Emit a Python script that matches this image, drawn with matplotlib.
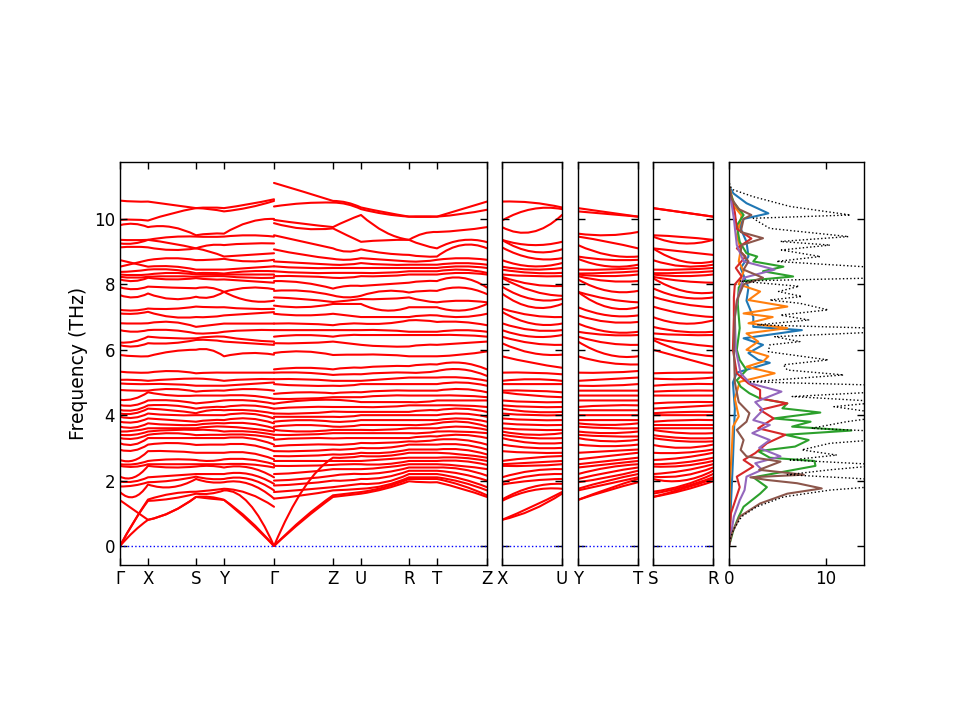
import numpy as np
import matplotlib
matplotlib.use('Agg')
import matplotlib.pyplot as plt
from matplotlib.path import Path
from matplotlib.patches import PathPatch

plt.rcParams['font.family'] = ['DejaVu Sans']
plt.rcParams['font.size'] = 12

# ---------------- data ----------------
main_labels = ['Γ', 'X', 'S', 'Y', 'Γ', 'Z', 'U', 'R', 'T', 'Z']
seg_lengths = [28, 48, 28, 50, 59, 28, 48, 28, 50]
side_labels = [('X', 'U'), ('Y', 'T'), ('S', 'R')]

# band frequencies (THz) at high-symmetry points and segment midpoints
G_left = [0, 0, 0, 1.4, 1.65, 1.82, 1.97, 2.12,
          2.45, 2.5, 2.63, 2.94, 3.14, 3.3, 3.4, 3.5,
          3.65, 3.8, 3.95, 4.05, 4.16, 4.31, 4.47, 4.77,
          4.97, 5.08, 5.33, 5.84, 6.14, 6.22, 6.6, 6.81,
          7.11, 7.22, 7.67, 7.91, 8.15, 8.23, 8.3, 8.38,
          8.54, 8.74, 9.13, 9.25, 9.36, 9.81, 9.97, 10.56]
GX_mid = [0.45, 0.75, 0.75, 1.1, 1.5, 1.85, 1.97, 2.1,
          2.42, 2.5, 2.62, 2.92, 3.1, 3.28, 3.4, 3.52,
          3.62, 3.78, 3.92, 4.05, 4.15, 4.3, 4.5, 4.75,
          4.95, 5.08, 5.3, 5.8, 6.1, 6.25, 6.55, 6.8,
          7.1, 7.2, 7.6, 7.85, 8.1, 8.2, 8.28, 8.4,
          8.64, 8.64, 9.15, 9.25, 9.35, 9.85, 9.98, 10.53]
X_pt = [0.8, 0.8, 1.38, 1.42, 1.88, 1.95, 2.1, 2.45,
        2.5, 2.6, 2.9, 3.1, 3.3, 3.4, 3.5, 3.6,
        3.75, 3.9, 4.05, 4.2, 4.3, 4.45, 4.7, 4.75,
        4.95, 5.05, 5.3, 5.8, 6.2, 6.4, 6.6, 6.81,
        7.16, 7.26, 7.72, 7.93, 8.2, 8.23, 8.3, 8.45,
        8.54, 8.74, 9.13, 9.36, 9.36, 9.75, 9.95, 10.53]
XS_mid = [1.05, 1.05, 1.45, 1.6, 1.8, 2.0, 2.15, 2.4,
          2.5, 2.65, 2.9, 3.15, 3.3, 3.45, 3.55, 3.6,
          3.7, 3.85, 4.0, 4.15, 4.3, 4.45, 4.6, 4.8,
          4.95, 5.1, 5.35, 5.95, 6.2, 6.35, 6.6, 6.85,
          7.0, 7.25, 7.55, 7.9, 8.15, 8.25, 8.35, 8.45,
          8.55, 8.8, 9.05, 9.25, 9.45, 9.75, 10.17, 10.43]
S_pt = [1.5, 1.5, 1.6, 1.66, 2.05, 2.12, 2.2, 2.43,
        2.5, 2.63, 2.85, 3.09, 3.3, 3.39, 3.55, 3.6,
        3.7, 3.8, 4.0, 4.06, 4.2, 4.36, 4.6, 4.72,
        4.9, 5.12, 5.28, 6.0, 6.3, 6.35, 6.5, 6.7,
        7.0, 7.32, 7.62, 7.88, 8.19, 8.23, 8.3, 8.34,
        8.45, 8.74, 9.1, 9.1, 9.46, 9.5, 10.33, 10.33]
SY_mid = [1.45, 1.5, 1.6, 1.7, 1.95, 2.05, 2.2, 2.45,
          2.5, 2.6, 2.85, 3.1, 3.3, 3.4, 3.55, 3.65,
          3.75, 3.85, 4.0, 4.15, 4.25, 4.4, 4.6, 4.75,
          4.9, 5.1, 5.3, 6.0, 6.3, 6.4, 6.5, 6.75,
          7.0, 7.3, 7.6, 7.9, 8.15, 8.25, 8.3, 8.35,
          8.45, 8.75, 9.0, 9.2, 9.45, 9.55, 10.3, 10.35]
Y_pt = [1.41, 1.41, 1.7, 1.75, 1.95, 2.05, 2.2, 2.4,
        2.5, 2.65, 2.85, 3.1, 3.3, 3.4, 3.5, 3.65,
        3.75, 3.85, 4.0, 4.15, 4.25, 4.45, 4.6, 4.75,
        4.9, 5.05, 5.3, 5.8, 6.25, 6.4, 6.55, 6.8,
        7.05, 7.3, 7.77, 7.77, 8.15, 8.25, 8.3, 8.33,
        8.45, 8.78, 8.85, 9.2, 9.46, 9.55, 10.23, 10.33]
YG_mid = [0.75, 0.8, 1.3, 1.6, 1.9, 2.05, 2.2, 2.4,
          2.5, 2.65, 2.85, 3.1, 3.3, 3.4, 3.5, 3.6,
          3.75, 3.9, 4.05, 4.15, 4.3, 4.45, 4.6, 4.8,
          4.95, 5.1, 5.3, 5.9, 6.2, 6.3, 6.6, 6.8,
          7.1, 7.25, 7.5, 7.9, 8.1, 8.2, 8.3, 8.4,
          8.5, 8.7, 8.9, 9.25, 9.5, 9.9, 10.35, 10.45]
G_end = [0, 0, 0, 1.2, 1.45, 1.7, 1.9, 2.1,
         2.4, 2.5, 2.65, 2.9, 3.1, 3.3, 3.4, 3.5,
         3.6, 3.75, 3.9, 4.05, 4.2, 4.35, 4.5, 4.75,
         5.0, 5.1, 5.3, 5.85, 6.15, 6.25, 6.6, 6.8,
         7.15, 7.25, 7.5, 7.85, 8.05, 8.2, 8.3, 8.4,
         8.55, 8.75, 8.95, 9.25, 9.46, 10.0, 10.55, 10.6]
G_start = [0, 0, 0, 1.45, 1.65, 1.85, 2.0, 2.2,
           2.45, 2.6, 2.75, 2.9, 3.05, 3.25, 3.4, 3.55,
           3.65, 3.8, 3.95, 4.05, 4.2, 4.35, 4.5, 4.65,
           4.95, 5.1, 5.3, 5.4, 5.9, 6.2, 6.4, 6.6,
           6.8, 7.1, 7.35, 7.6, 7.8, 8.1, 8.25, 8.4,
           8.55, 8.7, 9.07, 9.5, 9.87, 9.97, 10.38, 11.1]
GZ_mid = [0.8, 0.85, 1.75, 1.55, 1.72, 1.9, 2.05, 2.25,
          2.45, 2.6, 2.75, 2.9, 3.1, 3.3, 3.4, 3.5,
          3.7, 3.85, 3.95, 4.05, 4.25, 4.45, 4.5, 4.7,
          4.9, 5.1, 5.3, 5.45, 5.95, 6.2, 6.45, 6.6,
          6.8, 7.05, 7.3, 7.55, 7.8, 8.05, 8.25, 8.35,
          8.5, 8.65, 8.9, 9.3, 9.7, 9.85, 10.48, 10.83]
Z_pt = [1.5, 1.55, 1.7, 1.8, 2.0, 2.15, 2.35, 2.48,
        2.6, 2.7, 2.8, 2.95, 3.1, 3.29, 3.45, 3.55,
        3.65, 3.8, 3.95, 4.11, 4.25, 4.47, 4.55, 4.67,
        4.9, 5.05, 5.23, 5.4, 5.84, 6.25, 6.4, 6.6,
        6.75, 7.1, 7.4, 7.46, 7.66, 7.87, 8.2, 8.35,
        8.5, 8.6, 8.78, 9.1, 9.71, 9.75, 10.5, 10.55]
ZU_mid = [1.55, 1.6, 1.72, 1.85, 2.0, 2.2, 2.35, 2.5,
          2.6, 2.7, 2.8, 2.95, 3.1, 3.3, 3.45, 3.55,
          3.65, 3.8, 3.95, 4.1, 4.25, 4.45, 4.55, 4.7,
          4.9, 5.05, 5.25, 5.45, 5.85, 6.2, 6.45, 6.6,
          6.8, 7.05, 7.4, 7.5, 7.6, 7.95, 8.2, 8.35,
          8.5, 8.6, 8.75, 9.0, 9.5, 9.95, 10.45, 10.5]
U_pt = [1.6, 1.65, 1.75, 1.9, 2.05, 2.2, 2.35, 2.5,
        2.6, 2.75, 2.85, 3.0, 3.15, 3.3, 3.45, 3.55,
        3.7, 3.85, 4.0, 4.1, 4.25, 4.4, 4.55, 4.7,
        4.95, 5.05, 5.25, 5.45, 5.85, 6.15, 6.45, 6.6,
        6.8, 7.0, 7.4, 7.55, 7.65, 7.95, 8.25, 8.35,
        8.5, 8.65, 8.8, 9.07, 9.3, 10.12, 10.3, 10.35]
UR_mid = [1.75, 1.8, 1.85, 1.95, 2.1, 2.25, 2.4, 2.5,
          2.65, 2.75, 2.85, 3.0, 3.15, 3.3, 3.45, 3.55,
          3.7, 3.85, 4.0, 4.1, 4.25, 4.4, 4.6, 4.75,
          4.95, 5.1, 5.3, 5.5, 5.85, 6.1, 6.45, 6.6,
          6.8, 7.0, 7.2, 7.55, 7.8, 8.0, 8.25, 8.35,
          8.5, 8.6, 8.75, 8.95, 9.35, 9.6, 10.15, 10.2]
R_pt = [1.98, 2.05, 2.1, 2.2, 2.3, 2.4, 2.5, 2.6,
        2.7, 2.85, 2.95, 3.1, 3.2, 3.3, 3.45, 3.6,
        3.7, 3.85, 4.0, 4.1, 4.3, 4.4, 4.6, 4.75,
        4.95, 5.15, 5.3, 5.5, 5.8, 6.1, 6.45, 6.55,
        6.9, 7.0, 7.3, 7.6, 7.75, 8.05, 8.3, 8.4,
        8.5, 8.6, 8.7, 8.9, 9.36, 9.36, 10.07, 10.07]
RT_mid = [1.95, 2.05, 2.1, 2.2, 2.3, 2.4, 2.5, 2.6,
          2.7, 2.85, 2.95, 3.1, 3.2, 3.35, 3.45, 3.6,
          3.7, 3.85, 4.0, 4.15, 4.3, 4.4, 4.6, 4.75,
          4.95, 5.15, 5.3, 5.55, 5.8, 6.15, 6.45, 6.55,
          6.9, 7.05, 7.3, 7.5, 7.8, 8.1, 8.3, 8.4,
          8.5, 8.6, 8.7, 8.85, 9.2, 9.55, 10.06, 10.08]
T_pt = [1.95, 2.05, 2.1, 2.2, 2.3, 2.4, 2.5, 2.6,
        2.7, 2.85, 2.95, 3.1, 3.25, 3.35, 3.5, 3.6,
        3.75, 3.85, 4.0, 4.15, 4.3, 4.45, 4.6, 4.75,
        4.95, 5.15, 5.35, 5.55, 5.8, 6.15, 6.45, 6.55,
        6.85, 7.05, 7.3, 7.45, 7.8, 8.1, 8.3, 8.4,
        8.5, 8.6, 8.75, 8.85, 9.1, 9.6, 10.07, 10.07]
TZ_mid = [1.75, 1.85, 1.95, 2.05, 2.2, 2.35, 2.45, 2.6,
          2.7, 2.8, 2.95, 3.1, 3.25, 3.4, 3.5, 3.65,
          3.8, 3.9, 4.05, 4.2, 4.3, 4.45, 4.6, 4.8,
          5.0, 5.15, 5.4, 5.6, 5.85, 6.2, 6.45, 6.6,
          6.85, 7.0, 7.2, 7.5, 7.9, 8.2, 8.35, 8.45,
          8.55, 8.65, 8.8, 9.2, 9.35, 9.65, 10.15, 10.3]
Z_end = [1.5, 1.55, 1.7, 1.8, 2.0, 2.15, 2.35, 2.48,
         2.6, 2.7, 2.8, 2.95, 3.1, 3.3, 3.45, 3.55,
         3.65, 3.8, 3.95, 4.1, 4.25, 4.45, 4.55, 4.7,
         4.9, 5.05, 5.2, 5.4, 5.95, 6.25, 6.4, 6.55,
         6.75, 7.1, 7.4, 7.45, 7.7, 7.9, 8.3, 8.35,
         8.5, 8.6, 8.75, 9.1, 9.29, 9.75, 10.28, 10.53]
XU_mid = [1.1, 1.2, 1.7, 1.8, 2.0, 2.15, 2.3, 2.45,
          2.55, 2.7, 2.85, 3.0, 3.15, 3.3, 3.4, 3.55,
          3.7, 3.85, 4.0, 4.1, 4.25, 4.4, 4.6, 4.75,
          4.95, 5.1, 5.3, 5.6, 5.9, 6.2, 6.4, 6.6,
          6.8, 7.05, 7.3, 7.55, 7.8, 8.0, 8.25, 8.35,
          8.45, 8.55, 8.8, 9.0, 9.2, 9.6, 10.3, 10.5]
YT_mid = [1.7, 1.75, 1.9, 2.0, 2.1, 2.25, 2.4, 2.5,
          2.6, 2.75, 2.9, 3.05, 3.2, 3.35, 3.45, 3.6,
          3.7, 3.85, 4.0, 4.15, 4.3, 4.45, 4.6, 4.75,
          4.9, 5.1, 5.3, 5.6, 5.85, 6.2, 6.45, 6.55,
          6.85, 7.05, 7.3, 7.55, 7.8, 8.1, 8.25, 8.35,
          8.45, 8.55, 8.75, 8.9, 9.3, 9.5, 10.15, 10.2]
SR_mid = [1.7, 1.75, 1.8, 1.85, 2.0, 2.15, 2.3, 2.45,
          2.55, 2.7, 2.85, 3.0, 3.2, 3.3, 3.45, 3.6,
          3.7, 3.85, 4.0, 4.1, 4.25, 4.4, 4.6, 4.75,
          4.95, 5.1, 5.3, 5.75, 5.95, 6.2, 6.45, 6.55,
          6.8, 7.1, 7.4, 7.6, 7.8, 8.1, 8.25, 8.35,
          8.45, 8.55, 8.7, 9.0, 9.25, 9.45, 10.2, 10.2]

# band crossings: (segment, band at start, band index at end)
GX_links = {1: 3, 3: 1, 40: 41, 41: 40}
GZ_links = {2: 9, 3: 2, 4: 3, 5: 4, 6: 5, 7: 6, 8: 7, 9: 8}

# DOS (states/THz)
tdos_f = [0, 0.18, 0.49, 0.9, 1.2, 1.5, 1.71, 1.86, 2.02, 2.18, 2.33, 2.48, 2.63,
          2.78, 2.94, 3.14, 3.29, 3.5, 3.6, 3.8, 4.0, 4.26, 4.41, 4.57, 4.72,
          4.92, 5.02, 5.23, 5.38, 5.54, 5.69, 5.94, 6.15, 6.25, 6.4, 6.55, 6.66,
          6.76, 6.91, 7.06, 7.22, 7.42, 7.52, 7.63, 7.78, 7.94, 8.1, 8.2, 8.34,
          8.5, 8.7, 8.85, 9.05, 9.2, 9.31, 9.46, 9.71, 9.92, 10.02, 10.12, 10.38,
          10.68, 10.89, 11.0, 11.2]
tdos_v = [0, 0.1, 0.45, 1.3, 2.85, 5.6, 10.4, 17, 16, 6.0, 10.4, 16, 6.3,
          11.1, 7.5, 10.4, 17, 16, 8.5, 12.1, 17, 10.8, 16, 6.5, 16,
          15, 2.2, 11.8, 6.0, 5.6, 10.2, 4.05, 4.2, 7.3, 4.7, 16, 15,
          2.9, 8.2, 5.3, 10.2, 7.3, 4.2, 7.5, 5.1, 7.2, 1.1, 16, 17,
          16, 4.9, 9.4, 5.4, 10.4, 5.3, 12.3, 4.2, 3.0, 2.5, 12.5, 6.3,
          2.5, 0.44, 0.1, 0]

pdos1_f = [0, 2.6, 4.2, 5.0, 5.3, 5.6, 5.69, 5.9, 6.15, 6.35, 6.6, 6.7, 7.0,
           7.5, 7.9, 8.5, 8.85, 9.3, 9.77, 10.0, 10.17, 10.48, 10.78, 11.0]
pdos1_v = [0, 0.4, 0.6, 0.4, 0.8, 4.2, 3.0, 2.0, 3.5, 1.5, 7.5, 2.5, 2.5,
           1.8, 2.0, 1.2, 2.0, 1.8, 1.1, 1.5, 4.05, 1.8, 0.45, 0]
pdos2_f = [0, 2.0, 3.0, 3.65, 3.96, 4.5, 5.02, 5.28, 5.48, 5.64, 5.8, 6.0, 6.25,
           6.5, 6.66, 6.81, 7.0, 7.11, 7.32, 7.52, 7.78, 8.0, 8.4, 8.7, 9.05,
           9.5, 10.1, 10.4, 10.8, 11.0]
pdos2_v = [0, 0.1, 0.3, 0.4, 1.0, 0.6, 1.1, 4.7, 1.8, 3.5, 4.05, 1.8, 3.0,
           1.8, 6.0, 2.0, 4.5, 1.5, 6.0, 2.0, 3.2, 1.0, 1.5, 1.0, 1.2,
           0.8, 1.3, 0.5, 0.2, 0]
pdos3_f = [0, 0.49, 0.9, 1.2, 1.6, 1.8, 2.1, 2.45, 2.6, 2.7, 2.9, 3.04, 3.24,
           3.4, 3.53, 3.65, 3.8, 3.9, 4.08, 4.21, 4.36, 4.51, 4.67, 4.87, 5.07,
           5.38, 5.69, 6.0, 6.66, 7.4, 7.9, 8.1, 8.24, 8.4, 8.54, 8.7, 8.85,
           8.95, 9.3, 9.8, 10.12, 10.5, 10.9]
pdos3_v = [0, 0.45, 1.0, 1.5, 3.2, 3.9, 2.5, 8.9, 8.8, 4.2, 3.0, 6.8, 8.2,
           5.8, 12.6, 6.5, 8.4, 4.6, 9.4, 5.5, 6.0, 3.2, 2.1, 1.2, 0.8,
           1.8, 1.1, 0.8, 1.1, 0.9, 1.0, 1.5, 6.6, 3.5, 5.6, 2.5, 2.9,
           1.8, 1.1, 0.8, 1.5, 0.5, 0]
pdos4_f = [0, 1.0, 1.8, 2.12, 2.43, 2.63, 2.84, 3.14, 3.4, 3.6, 3.9, 4.16, 4.36,
           4.51, 4.77, 4.97, 5.28, 6.0, 7.0, 7.6, 8.0, 8.24, 8.5, 8.85, 9.1,
           9.4, 9.7, 10.2, 10.8]
pdos4_v = [0, 0.2, 1.1, 0.8, 2.5, 1.5, 2.7, 3.9, 5.8, 3.0, 4.6, 3.2, 6.0,
           3.2, 3.2, 2.0, 0.8, 0.4, 0.5, 0.5, 0.6, 1.3, 0.7, 1.7, 0.8,
           2.3, 0.8, 0.6, 0.1]
pdos5_f = [0, 0.9, 1.4, 1.71, 2.12, 2.33, 2.53, 2.74, 3.0, 3.24, 3.45, 3.7, 3.85,
           4.16, 4.4, 4.72, 4.97, 5.28, 6.0, 7.0, 7.6, 8.2, 8.45, 8.6, 8.7,
           9.2, 10.0, 10.8]
pdos5_v = [0, 0.5, 1.1, 1.6, 1.8, 3.4, 2.7, 5.3, 3.1, 4.2, 2.4, 4.2, 2.5,
           3.5, 2.7, 5.4, 2.2, 1.2, 0.7, 0.6, 0.9, 1.5, 4.7, 2.8, 1.5,
           0.8, 0.5, 0.1]
pdos6_f = [0, 0.39, 0.9, 1.3, 1.6, 1.76, 1.92, 2.02, 2.1, 2.18, 2.33, 2.58, 2.74,
           2.94, 3.24, 3.55, 3.8, 4.06, 4.4, 5.0, 6.0, 7.0, 7.5, 8.0, 8.2,
           8.45, 8.7, 9.0, 9.2, 9.41, 9.6, 10.0, 10.12, 10.3, 10.6, 11.0]
pdos6_v = [0, 0.3, 1.1, 3.2, 6.0, 9.55, 7.0, 3.9, 2.2, 7.7, 3.1, 5.3, 1.8,
           1.2, 1.5, 0.8, 1.8, 2.1, 1.0, 0.6, 0.5, 0.6, 0.8, 1.5, 3.5,
           1.5, 2.0, 1.2, 1.3, 3.5, 1.2, 1.5, 2.3, 1.0, 0.3, 0]

# ---------------- drawing ----------------
YLIM = (-0.58, 11.74)
BAND_COLOR = 'red'


def draw_bands(ax, xnodes, cols, links=None):
    """cols alternate: point, midpoint, point, ...  Each segment is drawn as a
    quadratic Bezier through the midpoint value.  links[s] maps a band index at
    the start of segment s to its index at the segment end (band crossings)."""
    links = links or {}
    nb = min(len(c) for c in cols)
    arrs = [np.asarray(c, dtype=float)[:nb] for c in cols]
    nseg = (len(cols) - 1) // 2
    for i in range(nb):
        cur = i
        verts = [(xnodes[0], arrs[0][cur])]
        codes = [Path.MOVETO]
        for s in range(nseg):
            a, m, b = arrs[2 * s], arrs[2 * s + 1], arrs[2 * s + 2]
            nxt = links.get(s, {}).get(cur, cur)
            ya, ym, yb = a[cur], m[cur], b[nxt]
            ctrl = 2 * ym - 0.5 * (ya + yb)
            verts += [(xnodes[2 * s + 1], ctrl), (xnodes[2 * s + 2], yb)]
            codes += [Path.CURVE3, Path.CURVE3]
            cur = nxt
        ax.add_patch(PathPatch(Path(verts, codes), fill=False,
                               edgecolor=BAND_COLOR, lw=1.5,
                               capstyle='round', joinstyle='round'))


def style_axis(ax):
    ax.set_ylim(*YLIM)
    ax.set_yticks([0, 2, 4, 6, 8, 10])
    ax.tick_params(direction='in', top=True, right=True, length=5, width=1,
                   labelsize=12)
    for sp in ax.spines.values():
        sp.set_linewidth(1.0)


fig = plt.figure(figsize=(9.6, 7.2), dpi=100)
bottom, height = 0.2153, 0.5597

# main panel
ax0 = fig.add_axes([0.125, bottom, 0.3823, height])
nodes = np.concatenate([[0], np.cumsum(seg_lengths)])
xfull = []
for k in range(len(seg_lengths)):
    xfull += [nodes[k], 0.5 * (nodes[k] + nodes[k + 1])]
xfull.append(nodes[-1])
xfull = np.array(xfull, dtype=float)
left_cols = [G_left, GX_mid, X_pt, XS_mid, S_pt, SY_mid, Y_pt, YG_mid, G_end]
right_cols = [G_start, GZ_mid, Z_pt, ZU_mid, U_pt, UR_mid, R_pt, RT_mid,
              T_pt, TZ_mid, Z_end]
draw_bands(ax0, xfull[:9], left_cols, links={0: GX_links})
draw_bands(ax0, xfull[8:], right_cols, links={0: GZ_links})
ax0.plot([nodes[0], nodes[-1]], [0, 0], color='blue', ls=':', lw=1)
ax0.set_xlim(nodes[0], nodes[-1])
ax0.set_xticks(nodes)
ax0.set_xticklabels(main_labels)
style_axis(ax0)
ax0.set_ylabel('Frequency (THz)', fontsize=13.5)

# side panels
side_cols = [[X_pt, XU_mid, U_pt], [Y_pt, YT_mid, T_pt], [S_pt, SR_mid, R_pt]]
side_left = [0.5229, 0.6021, 0.6802]
for lx, cols, labs in zip(side_left, side_cols, side_labels):
    ax = fig.add_axes([lx, bottom, 0.0625, height])
    draw_bands(ax, [0.0, 0.5, 1.0], cols)
    ax.plot([0, 1], [0, 0], color='blue', ls=':', lw=1)
    ax.set_xlim(0, 1)
    ax.set_xticks([0, 1])
    ax.set_xticklabels(list(labs))
    style_axis(ax)
    ax.set_yticklabels([])

# DOS panel
axd = fig.add_axes([0.7594, bottom, 0.1406, height])
pdos = [(pdos1_f, pdos1_v), (pdos2_f, pdos2_v), (pdos3_f, pdos3_v),
        (pdos4_f, pdos4_v), (pdos5_f, pdos5_v), (pdos6_f, pdos6_v)]
for k, (f, v) in enumerate(pdos):
    axd.plot(v, f, color='C%d' % k, lw=1.5)
axd.plot(tdos_v, tdos_f, color='black', ls=':', lw=1)
axd.set_xlim(0, 13.9)
axd.set_xticks([0, 10])
style_axis(axd)
axd.set_yticklabels([])

fig.savefig('out.png', dpi=100)
